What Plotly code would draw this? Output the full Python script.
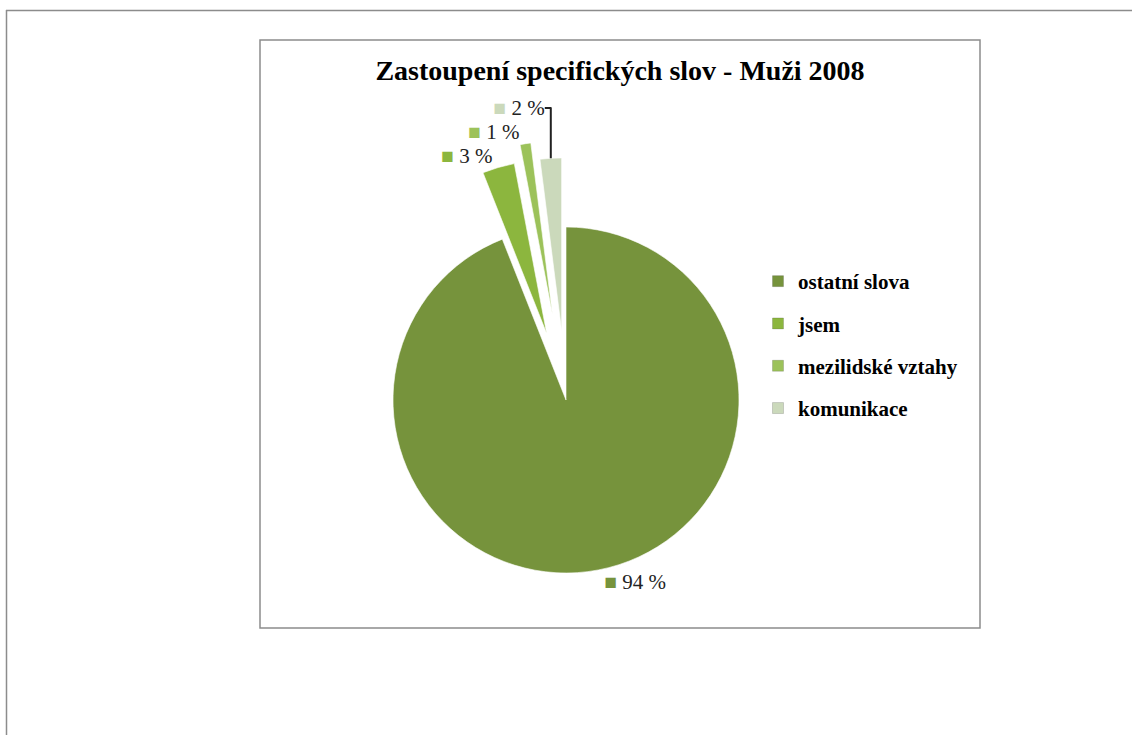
import plotly.graph_objects as go

categories = ["ostatní slova", "jsem", "mezilidské vztahy", "komunikace"]
values = [94, 3, 1, 2]
colors = ["#76933c", "#8cb63e", "#9cc25a", "#cbd9bb"]
pulls = [0, 0.4, 0.5, 0.4]
title_text = "Zastoupení specifických slov - Muži 2008"

W, H = 1132, 735
cx, cy, r = 566, 400, 173
box = r * (2 + 2 * max(pulls))

labels_txt = [
    f'<span style="color:{c}">■</span> {v} %' for c, v in zip(colors, values)
]

fig = go.Figure()
fig.add_trace(
    go.Pie(
        labels=categories,
        values=values,
        sort=False,
        direction="clockwise",
        rotation=0,
        pull=pulls,
        marker=dict(colors=colors, line=dict(color="rgba(255,255,255,0.6)", width=1)),
        text=labels_txt,
        textinfo="text",
        textposition="outside",
        outsidetextfont=dict(family="Liberation Serif", size=21, color="#222"),
        domain=dict(
            x=[(cx - box / 2) / W, (cx + box / 2) / W],
            y=[1 - (cy + box / 2) / H, 1 - (cy - box / 2) / H],
        ),
        hoverinfo="label+percent",
        showlegend=False,
    )
)

# legend entries (one group per category so that the gap between them can be set)
for cat, col in zip(categories, colors):
    fig.add_trace(
        go.Scatter(
            x=[None], y=[None], mode="markers", name=cat, legendgroup=cat,
            marker=dict(symbol="square", size=11, color=col,
                        line=dict(color="rgba(0,0,0,0.15)", width=1)),
            showlegend=True, hoverinfo="skip",
        )
    )

shapes = [
    dict(type="rect", xref="paper", yref="paper",
         x0=260 / W, x1=980 / W, y0=1 - 628 / H, y1=1 - 40 / H,
         line=dict(color="#8c8c8c", width=1.5), layer="below"),
    dict(type="line", xref="paper", yref="paper",
         x0=6 / W, x1=1, y0=1 - 10.5 / H, y1=1 - 10.5 / H,
         line=dict(color="#8c8c8c", width=1.5)),
    dict(type="line", xref="paper", yref="paper",
         x0=6.5 / W, x1=6.5 / W, y0=0, y1=1 - 10 / H,
         line=dict(color="#8c8c8c", width=1.5)),
]

fig.update_layout(
    width=W,
    height=H,
    margin=dict(l=0, r=0, t=0, b=0, autoexpand=False),
    paper_bgcolor="white",
    plot_bgcolor="white",
    xaxis=dict(visible=False),
    yaxis=dict(visible=False),
    title=dict(
        text=f"<b>{title_text}</b>",
        x=620 / W, xanchor="center",
        y=1 - 70 / H, yanchor="middle",
        font=dict(family="Liberation Serif", size=28, color="black"),
    ),
    legend=dict(
        x=758 / W, xanchor="left",
        y=1 - 261 / H, yanchor="top",
        font=dict(family="Liberation Serif", size=21, color="black", weight="bold"),
        bgcolor="rgba(0,0,0,0)",
        tracegroupgap=12,
        itemclick=False,
        itemdoubleclick=False,
    ),
    shapes=shapes,
)

fig.write_html(
    "out.html",
    config={"displayModeBar": False},
    post_script="document.body.style.margin='0';",
)
